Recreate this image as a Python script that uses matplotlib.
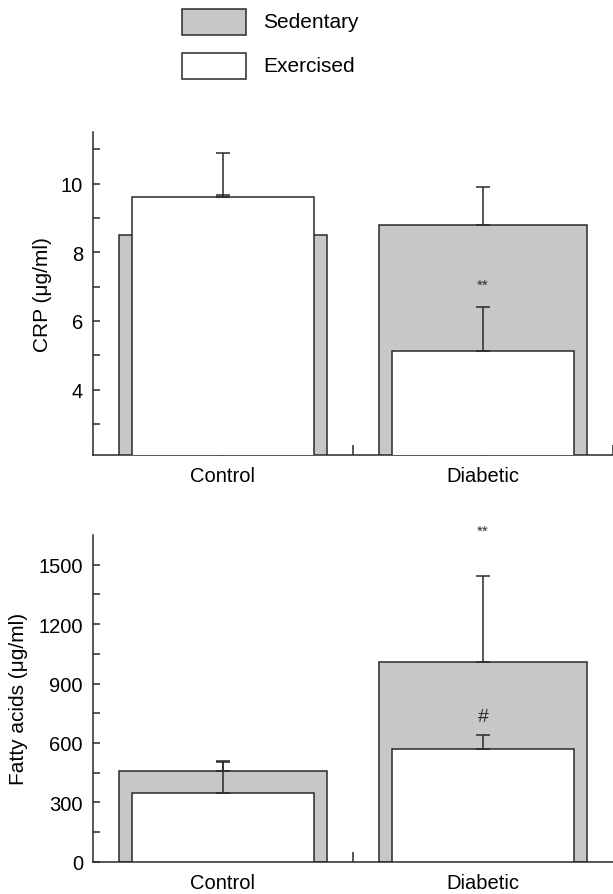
import matplotlib
matplotlib.use("Agg")
import matplotlib.pyplot as plt
from matplotlib.patches import Rectangle

plt.rcParams['font.family'] = ['Liberation Sans', 'DejaVu Sans']

# donnees
groups = ["Control", "Diabetic"]
crp_sed = [8.5, 8.8]
crp_sed_err = [1.18, 1.09]
crp_ex = [9.6, 5.12]
crp_ex_err = [1.3, 1.3]
fa_sed = [460, 1008]
fa_sed_err = [48, 433]
fa_ex = [345, 570]
fa_ex_err = [160, 72]

GRAY = "#c6c7c9"
EDGE = "#2a2a2a"

W, H = 613, 895
fig = plt.figure(figsize=(W / 100, H / 100), dpi=100)

def px_axes(left, top, right, bottom):
    return fig.add_axes([left / W, 1 - bottom / H, (right - left) / W, (bottom - top) / H])

def draw_panel(ax, sed, sed_err, ex, ex_err, ylim, yticks, yminor, ylabel, label_x, xmajor):
    pos = [0.5, 1.5]
    ax.bar(pos, sed, width=0.8, color=GRAY, edgecolor=EDGE, linewidth=1.1, zorder=1)
    ax.errorbar(pos, sed, yerr=[[0, 0], sed_err], fmt='none', ecolor=EDGE,
                elinewidth=1.1, capsize=5, capthick=1.1, zorder=2)
    ax.bar(pos, ex, width=0.7, color="white", edgecolor=EDGE, linewidth=1.1, zorder=3)
    ax.errorbar(pos, ex, yerr=[[0, 0], ex_err], fmt='none', ecolor=EDGE,
                elinewidth=1.1, capsize=5, capthick=1.1, zorder=4)
    ax.set_xlim(0, 2)
    ax.set_ylim(*ylim)
    ax.spines['top'].set_visible(False)
    ax.spines['right'].set_visible(False)
    for s in ['left', 'bottom']:
        ax.spines[s].set_linewidth(1.1)
        ax.spines[s].set_color(EDGE)
    ax.set_xticks(xmajor)
    ax.set_xticklabels([""] * len(xmajor))
    ax.set_xticks(pos, groups, minor=True)
    ax.tick_params(axis='x', which='major', direction='in', length=7, width=1.1, color=EDGE)
    ax.tick_params(axis='x', which='minor', direction='in', length=2.5, width=1,
                   pad=8, labelsize=14.5, color=EDGE)
    ax.set_yticks(yticks)
    ax.set_yticks(yminor, minor=True)
    ax.tick_params(axis='y', which='both', direction='in', length=5, width=1.1,
                   pad=7, labelsize=14.5, color=EDGE)
    ax.set_ylabel(ylabel, fontsize=15)
    ax.yaxis.set_label_coords(label_x, 0.5)

ax1 = px_axes(92.6, 133, 613, 456)
draw_panel(ax1, crp_sed, crp_sed_err, crp_ex, crp_ex_err, (2.1, 11.5),
           [4, 6, 8, 10], [3, 5, 7, 9, 11], "CRP (μg/ml)", -0.078, [1, 2])
ax1.text(1.5, 7.05, "**", ha='center', va='center', fontsize=11, color=EDGE)

ax2 = px_axes(92.6, 536, 613, 862.7)
draw_panel(ax2, fa_sed, fa_sed_err, fa_ex, fa_ex_err, (0, 1650),
           [0, 300, 600, 900, 1200, 1500], [150, 450, 750, 1050, 1350],
           "Fatty acids (μg/ml)", -0.124, [1])
ax2.text(1.5, 735, "#", ha='center', va='center', fontsize=14, color=EDGE)
ax2.text(1.5, 1672, "**", ha='center', va='center', fontsize=11, color=EDGE, clip_on=False)

# legende
leg = [("Sedentary", GRAY, 23), ("Exercised", "white", 67)]
for name, col, yc in leg:
    fig.add_artist(Rectangle((182 / W, 1 - (yc + 13) / H), 64 / W, 26 / H,
                             transform=fig.transFigure, facecolor=col, edgecolor=EDGE, linewidth=1.1))
    fig.text(263 / W, 1 - yc / H, name, ha='left', va='center', fontsize=15)

fig.savefig("out.png", dpi=100)
